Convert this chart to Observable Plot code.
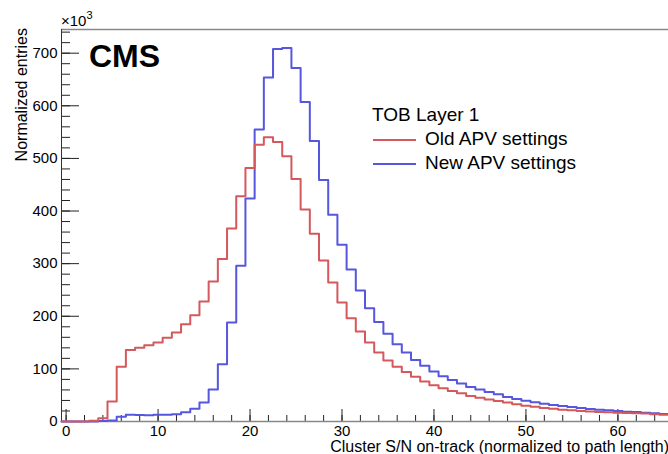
<!DOCTYPE html>
<html>
<head>
<meta charset="utf-8">
<script src="https://cdn.jsdelivr.net/npm/d3@7"></script>
<script src="https://cdn.jsdelivr.net/npm/@observablehq/plot@0.6"></script>
<style>
  html, body { margin: 0; padding: 0; background: #fff; }
  #chart svg { display: block; }
</style>
</head>
<body>
<div id="chart"></div>
<script>
// ---- Data (entries in units of 10^3), bins of width 1 centred on integers ----
const binCenters = [0,1,2,3,4,5,6,7,8,9,10,11,12,13,14,15,16,17,18,19,20,21,22,23,24,25,26,27,28,29,30,31,32,33,34,35,36,37,38,39,40,41,42,43,44,45,46,47,48,49,50,51,52,53,54,55,56,57,58,59,60,61,62,63,64,65];
const binWidth = 1;
const oldAPV = [0,0,0,1.6,6,38,104,136,140,145,150,159,169,185,202,228,266,309,367,428,482,526,540,531,504,461,403,357,306,264,226,196,171,150,131,116,104,94,85,76,69,63,58,53.5,48.5,45,42,39,36,33,30,28,25.6,24,22.4,21.2,20,19,18,17.5,16.8,16,15.5,15,14,13];
const newAPV = [0,0,0,0,0.8,2,9,13,12.5,12,13,13,14,17.5,24,36,61,109,188,296,424,555,654,708,710,672,607,533,459,393,336,289,249,215,189,167,147,131,117,106,95,86,79,72,65.5,61,56,51.6,46.5,42.7,39.5,36.4,33.8,31.3,29.4,27.5,25.6,23.7,22.4,21.2,20,18.6,18,16.8,15.5,14.2];
const seriesNames = ["Old APV settings", "New APV settings"];
const legendTitle = "TOB Layer 1";
const xTitle = "Cluster S/N on-track (normalized to path length)";
const yTitle = "Normalized entries";
const xMajorTicks = [0,10,20,30,40,50,60];
const yMajorTicks = [0,100,200,300,400,500,600,700];
const xMinorTicks = d3.range(0, 66, 2);
const yMinorTicks = d3.range(0, 745, 20);
const xDomain = [-0.5, 65.5];
const yDomain = [0, 745];

// ---- Layout ----
const W = 668, H = 454;
const mL = 61, mR = 0, mT = 29, mB = 33;
const frameW = W - mL - mR, frameH = H - mT - mB;
const red = "rgb(212,88,92)", blue = "rgb(86,86,222)";
const font = "'Liberation Sans', Arial, Helvetica, sans-serif";

function stepPoints(values) {
  const pts = values.map((v, i) => ({x: binCenters[i] - binWidth / 2, y: v}));
  pts.push({x: binCenters[binCenters.length - 1] + binWidth / 2, y: values[values.length - 1]});
  return pts;
}

const chart = Plot.plot({
  width: W, height: H,
  marginLeft: mL, marginRight: mR, marginTop: mT, marginBottom: mB,
  style: {fontFamily: font, fontSize: "15px", background: "#fff", color: "#000", overflow: "visible"},
  x: {domain: xDomain, ticks: xMajorTicks, tickSize: 0, tickPadding: 4, label: null},
  y: {domain: yDomain, ticks: yMajorTicks, tickSize: 0, tickPadding: 4, label: null},
  marks: [
    Plot.tickX(xMinorTicks, {x: d => d, insetTop: frameH - 6, stroke: "#222"}),
    Plot.tickX(xMajorTicks, {x: d => d, insetTop: frameH - 12, stroke: "#222"}),
    Plot.tickY(yMinorTicks, {y: d => d, insetRight: frameW - 9, stroke: "#222"}),
    Plot.tickY(yMajorTicks, {y: d => d, insetRight: frameW - 18, stroke: "#222"}),
    Plot.ruleY([yDomain[1]], {stroke: "#888", strokeWidth: 1.5}),
    Plot.ruleY([yDomain[0]], {stroke: "#888", strokeWidth: 1.5}),
    Plot.ruleX([xDomain[0]], {stroke: "#333", strokeWidth: 1}),
    Plot.line(stepPoints(newAPV), {x: "x", y: "y", curve: "step-after", stroke: blue, strokeWidth: 2}),
    Plot.line(stepPoints(oldAPV), {x: "x", y: "y", curve: "step-after", stroke: red, strokeWidth: 2})
  ]
});

document.getElementById("chart").appendChild(chart);

// ---- Annotations (titles, CMS label, legend) ----
const svg = d3.select(chart.tagName.toLowerCase() === "svg" ? chart : chart.querySelector("svg"));
const g = svg.append("g").attr("font-family", font).attr("fill", "#000").attr("text-anchor", "start");

// exponent label
const exp = g.append("text").attr("x", mL).attr("y", 26).attr("font-size", 15);
exp.append("tspan").text("×10");
exp.append("tspan").attr("font-size", 11).attr("dy", -7).text("3");

// CMS
g.append("text").attr("x", 89).attr("y", 67).attr("font-size", 32).attr("font-weight", "bold").text("CMS");

// axis titles
g.append("text").attr("x", 669).attr("y", 452).attr("text-anchor", "end").attr("font-size", 16).text(xTitle);
g.append("text").attr("transform", "translate(27,28) rotate(-90)").attr("text-anchor", "end").attr("font-size", 16).text(yTitle);

// legend
const lg = g.append("g").attr("font-size", 19);
lg.append("text").attr("x", 372).attr("y", 121).text(legendTitle);
[[red, 140, 145], [blue, 164, 169]].forEach(([c, ly, ty], i) => {
  lg.append("line").attr("x1", 373).attr("x2", 416).attr("y1", ly).attr("y2", ly).attr("stroke", c).attr("stroke-width", 2);
  lg.append("text").attr("x", 425).attr("y", ty).text(seriesNames[i]);
});
</script>
</body>
</html>
